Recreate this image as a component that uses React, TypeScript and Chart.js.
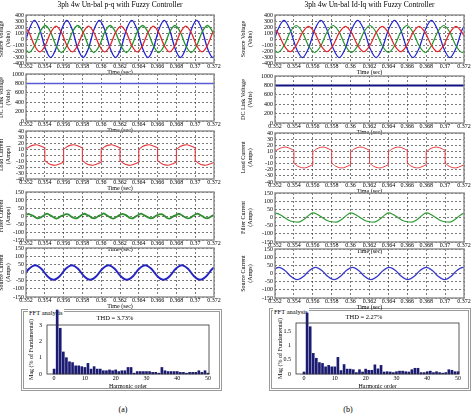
import React, { useEffect, useRef } from 'react';
import { Chart, registerables } from 'chart.js';

Chart.register(...registerables);

// ---------------- data ----------------
const timeTicks = [0.352, 0.354, 0.356, 0.358, 0.36, 0.362, 0.364, 0.366, 0.368, 0.37, 0.372];
const voltTicks = [-400, -300, -200, -100, 0, 100, 200, 300, 400];
const dcTicks = [0, 200, 400, 600, 800, 1000];
const loadTicks = [-40, -30, -20, -10, 0, 10, 20, 30, 40];
const ampTicks = [-150, -100, -50, 0, 50, 100, 150];
const harmTicks = [0, 10, 20, 30, 40, 50];
const fftTicksA = [0, 1, 2, 3];
const fftTicksB = [0, 0.5, 1, 1.5];

// (a) source voltages
const lvT = [0.35175, 0.352325, 0.3529, 0.353475, 0.35405, 0.354625, 0.3552, 0.355775, 0.35635, 0.356925, 0.3575, 0.358075,
  0.35865, 0.359225, 0.3598, 0.360375, 0.36095, 0.361525, 0.3621, 0.362675, 0.36325, 0.363825, 0.3644, 0.364975,
  0.36555, 0.366125, 0.3667, 0.367275, 0.36785, 0.368425, 0.369, 0.369575, 0.37015, 0.370725, 0.3713, 0.371875, 0.37245];
const lvRed = [215, 108, -108, -215, -108, 108, 215, 108, -108, -215, -108, 108, 215, 108, -108, -215, -108, 108,
  215, 108, -108, -215, -108, 108, 215, 108, -108, -215, -108, 108, 215, 108, -108, -215, -108, 108, 215];
const lvGreen = [-113, -225, -113, 113, 225, 113, -113, -225, -113, 113, 225, 113, -113, -225, -113, 113, 225, 113,
  -113, -225, -113, 113, 225, 113, -113, -225, -113, 113, 225, 113, -113, -225, -113, 113, 225, 113, -113];
const lvBlue = [-155, 155, 310, 155, -155, -310, -155, 155, 310, 155, -155, -310, -155, 155, 310, 155, -155, -310,
  -155, 155, 310, 155, -155, -310, -155, 155, 310, 155, -155, -310, -155, 155, 310, 155, -155, -310, -155];

// (b) source voltages
const rvT = [0.35165, 0.3523, 0.35295, 0.3536, 0.35425, 0.3549, 0.35555, 0.3562, 0.35685, 0.3575, 0.35815, 0.3588,
  0.35945, 0.3601, 0.36075, 0.3614, 0.36205, 0.3627, 0.36335, 0.364, 0.36465, 0.3653, 0.36595, 0.3666, 0.36725,
  0.3679, 0.36855, 0.3692, 0.36985, 0.3705, 0.37115, 0.3718, 0.37245];
const rvRed = [210, 105, -105, -210, -105, 105, 210, 105, -105, -210, -105, 105, 210, 105, -105, -210, -105, 105,
  210, 105, -105, -210, -105, 105, 210, 105, -105, -210, -105, 105, 210, 105, -105];
const rvGreen = [-113, -225, -113, 113, 225, 113, -113, -225, -113, 113, 225, 113, -113, -225, -113, 113, 225, 113,
  -113, -225, -113, 113, 225, 113, -113, -225, -113, 113, 225, 113, -113, -225, -113];
const rvBlue = [-155, 155, 310, 155, -155, -310, -155, 155, 310, 155, -155, -310, -155, 155, 310, 155, -155, -310,
  -155, 155, 310, 155, -155, -310, -155, 155, 310, 155, -155, -310, -155, 155, 310];

// DC link voltage
const dcT = [0.352, 0.372];
const dcLeftV = [800, 800];
const dcRightV = [800, 800];

// load current (same in both)
const loadT = [
  0.352, 0.3524, 0.3528, 0.3531, 0.3534, 0.3537, 0.354,
  0.354, 0.3544, 0.3548, 0.3551, 0.3554, 0.3557, 0.356,
  0.356, 0.3564, 0.3568, 0.3571, 0.3574, 0.3577, 0.358,
  0.358, 0.3584, 0.3588, 0.3591, 0.3594, 0.3597, 0.36,
  0.36, 0.3604, 0.3608, 0.3611, 0.3614, 0.3617, 0.362,
  0.362, 0.3624, 0.3628, 0.3631, 0.3634, 0.3637, 0.364,
  0.364, 0.3644, 0.3648, 0.3651, 0.3654, 0.3657, 0.366,
  0.366, 0.3664, 0.3668, 0.3671, 0.3674, 0.3677, 0.368,
  0.368, 0.3684, 0.3688, 0.3691, 0.3694, 0.3697, 0.37,
  0.37, 0.3704, 0.3708, 0.3711, 0.3714, 0.3717, 0.372];
const loadV = [
  10, 14, 16.5, 17, 16, 14, 12,
  -10, -14, -16.5, -17, -16, -14, -12,
  10, 14, 16.5, 17, 16, 14, 12,
  -10, -14, -16.5, -17, -16, -14, -12,
  10, 14, 16.5, 17, 16, 14, 12,
  -10, -14, -16.5, -17, -16, -14, -12,
  10, 14, 16.5, 17, 16, 14, 12,
  -10, -14, -16.5, -17, -16, -14, -12,
  10, 14, 16.5, 17, 16, 14, 12,
  -10, -14, -16.5, -17, -16, -14, -12];

// (a) filter current
const lfT = [
  0.352, 0.35225, 0.3525, 0.35275, 0.353, 0.35325, 0.3535, 0.35375,
  0.354, 0.35425, 0.3545, 0.35475, 0.355, 0.35525, 0.3555, 0.35575,
  0.356, 0.35625, 0.3565, 0.35675, 0.357, 0.35725, 0.3575, 0.35775,
  0.358, 0.35825, 0.3585, 0.35875, 0.359, 0.35925, 0.3595, 0.35975,
  0.36, 0.36025, 0.3605, 0.36075, 0.361, 0.36125, 0.3615, 0.36175,
  0.362, 0.36225, 0.3625, 0.36275, 0.363, 0.36325, 0.3635, 0.36375,
  0.364, 0.36425, 0.3645, 0.36475, 0.365, 0.36525, 0.3655, 0.36575,
  0.366, 0.36625, 0.3665, 0.36675, 0.367, 0.36725, 0.3675, 0.36775,
  0.368, 0.36825, 0.3685, 0.36875, 0.369, 0.36925, 0.3695, 0.36975,
  0.37, 0.37025, 0.3705, 0.37075, 0.371, 0.37125, 0.3715, 0.37175,
  0.372];
const lfV = [
  6, 13, 8, 1, -9, -14, -11, -2,
  8, 15, 7, -1, -11, -16, -10, 0,
  5, 12, 10, -2, -10, -15, -12, -1,
  9, 14, 6, 0, -12, -14, -9, 1,
  6, 16, 8, -2, -10, -16, -11, -1,
  7, 13, 9, 1, -11, -15, -10, 0,
  8, 15, 7, -1, -9, -14, -12, -2,
  6, 12, 10, 0, -12, -16, -9, 1,
  7, 14, 8, -1, -10, -15, -11, 0,
  9, 15, 7, 0, -11, -14, -10, -1,
  6];

// (b) filter current
const rfT = [0.352, 0.3525, 0.353, 0.3535, 0.354, 0.3545, 0.355, 0.3555, 0.356, 0.3565, 0.357, 0.3575, 0.358, 0.3585,
  0.359, 0.3595, 0.36, 0.3605, 0.361, 0.3615, 0.362, 0.3625, 0.363, 0.3635, 0.364, 0.3645, 0.365, 0.3655, 0.366,
  0.3665, 0.367, 0.3675, 0.368, 0.3685, 0.369, 0.3695, 0.37, 0.3705, 0.371, 0.3715, 0.372];
const rfV = [28, 18, 0, -18, -26, -28, -14, 10, 28, 18, 0, -18, -26, -28, -14, 10, 28, 18, 0, -18, -26, -28, -14, 10,
  28, 18, 0, -18, -26, -28, -14, 10, 28, 18, 0, -18, -26, -28, -14, 10, 28];

// (a) source current
const lsT = [0.35168, 0.35233, 0.35298, 0.35363, 0.35428, 0.35493, 0.35558, 0.35623, 0.35688, 0.35753, 0.35818,
  0.35883, 0.35948, 0.36013, 0.36078, 0.36143, 0.36208, 0.36273, 0.36338, 0.36403, 0.36468, 0.36533, 0.36598,
  0.36663, 0.36728, 0.36793, 0.36858, 0.36923, 0.36988, 0.37053, 0.37118, 0.37183, 0.37248];
const lsV = [-23, 23, 45, 23, -23, -45, -23, 23, 45, 23, -23, -45, -23, 23, 45, 23, -23, -45, -23, 23, 45, 23, -23, -45,
  -23, 23, 45, 23, -23, -45, -23, 23, 45];

// (b) source current
const rsT = [0.3511, 0.35175, 0.3524, 0.35305, 0.3537, 0.35435, 0.355, 0.35565, 0.3563, 0.35695, 0.3576, 0.35825,
  0.3589, 0.35955, 0.3602, 0.36085, 0.3615, 0.36215, 0.3628, 0.36345, 0.3641, 0.36475, 0.3654, 0.36605, 0.3667,
  0.36735, 0.368, 0.36865, 0.3693, 0.36995, 0.3706, 0.37125, 0.3719, 0.37255];
const rsV = [-19, 19, 38, 19, -19, -38, -19, 19, 38, 19, -19, -38, -19, 19, 38, 19, -19, -38, -19, 19, 38, 19, -19, -38,
  -19, 19, 38, 19, -19, -38, -19, 19, 38, 19];

// FFT spectra
const harmonics = [0, 1, 2, 3, 4, 5, 6, 7, 8, 9, 10, 11, 12, 13, 14, 15, 16, 17, 18, 19, 20, 21, 22, 23, 24, 25, 26, 27,
  28, 29, 30, 31, 32, 33, 34, 35, 36, 37, 38, 39, 40, 41, 42, 43, 44, 45, 46, 47, 48, 49, 50];
const fftA = [0.3, 3.92, 2.8, 1.35, 1.0, 0.75, 0.7, 0.5, 0.5, 0.45, 0.4, 0.65, 0.3, 0.45, 0.3, 0.3, 0.2, 0.2, 0.25, 0.2,
  0.25, 0.15, 0.2, 0.2, 0.4, 0.4, 0.05, 0.15, 0.15, 0.15, 0.15, 0.15, 0.1, 0.1, 0.05, 0.4, 0.2, 0.15, 0.15, 0.15, 0.15,
  0.1, 0.1, 0.05, 0.1, 0.1, 0.1, 0.2, 0.1, 0.2, 0.05];
const fftB = [0.07, 2.13, 1.65, 0.72, 0.55, 0.4, 0.37, 0.25, 0.3, 0.25, 0.25, 0.58, 0.12, 0.33, 0.17, 0.17, 0.15, 0.05,
  0.15, 0.07, 0.17, 0.13, 0.13, 0.32, 0.18, 0.3, 0.07, 0.08, 0.07, 0.05, 0.08, 0.1, 0.1, 0.08, 0.07, 0.15, 0.2, 0.2,
  0.05, 0.05, 0.08, 0.1, 0.05, 0.08, 0.05, 0.03, 0.05, 0.15, 0.13, 0.08, 0.08];

// ---------------- helpers ----------------
const SERIF = "'Liberation Serif', 'Times New Roman', serif";

type Series = { t: number[]; v: number[]; color: string; width: number };
type LineCfg = {
  L: number; T: number; R: number; B: number;
  yW: number; padTop: number; padR: number; xH: number;
  yMin: number; yMax: number; yTicks: number[]; yTitle: string[];
  series: Series[]; title?: string;
};

const framePlugin = (color: string, width: number) => ({
  id: 'frame',
  afterDraw(chart: any) {
    const { ctx, chartArea: a } = chart;
    ctx.save();
    ctx.strokeStyle = color;
    ctx.lineWidth = width;
    ctx.strokeRect(a.left, a.top, a.right - a.left, a.bottom - a.top);
    ctx.restore();
  },
});

function lineGeom(c: LineCfg) {
  const top = c.title ? 0 : c.T - c.padTop;
  const left = c.L - c.yW;
  const w = c.yW + (c.R - c.L) + c.padR;
  const h = (c.T - top) + (c.B - c.T) + c.xH;
  return { left, top, w, h };
}

function LinePanel({ c }: { c: LineCfg }) {
  const ref = useRef<HTMLCanvasElement>(null);
  const g = lineGeom(c);
  useEffect(() => {
    const chart = new Chart(ref.current as HTMLCanvasElement, {
      type: 'line',
      data: {
        datasets: c.series.map((s) => ({
          data: s.t.map((x, i) => ({ x, y: s.v[i] })),
          borderColor: s.color,
          borderWidth: s.width,
          pointRadius: 0,
          fill: false,
          cubicInterpolationMode: 'monotone',
        })),
      },
      options: {
        responsive: false,
        animation: false,
        devicePixelRatio: 1,
        layout: { autoPadding: false, padding: { left: 0, right: c.padR, top: c.title ? 0 : c.padTop, bottom: 0 } },
        plugins: {
          legend: { display: false },
          tooltip: { enabled: false },
          title: c.title
            ? {
                display: true, text: c.title, color: '#000', fullSize: false,
                font: { family: SERIF, size: 7.5, weight: 'normal', lineHeight: 1.2 },
                padding: { top: 1, bottom: c.T - 10 },
              }
            : { display: false },
        },
        scales: {
          x: {
            type: 'linear', min: 0.352, max: 0.372,
            afterBuildTicks: (s: any) => { s.ticks = timeTicks.map((value) => ({ value })); },
            afterFit: (s: any) => { s.height = c.xH; },
            ticks: {
              autoSkip: false, maxRotation: 0, minRotation: 0, padding: 0, color: '#000',
              font: { family: SERIF, size: 6, lineHeight: 1.1 },
              callback: (v: any) => String(v),
            },
            grid: { color: '#222', lineWidth: 0.6, drawTicks: false },
            border: { display: false, dash: [2, 2] },
            title: { display: true, text: 'Time (sec)', color: '#000', padding: 0, font: { family: SERIF, size: 6, lineHeight: 1 } },
          },
          y: {
            type: 'linear', min: c.yMin, max: c.yMax,
            afterBuildTicks: (s: any) => { s.ticks = c.yTicks.map((value) => ({ value })); },
            afterFit: (s: any) => { s.width = c.yW; },
            ticks: {
              autoSkip: false, padding: 2, color: '#000',
              font: { family: SERIF, size: 6, lineHeight: 1.1 },
              callback: (v: any) => String(v),
            },
            grid: { color: '#222', lineWidth: 0.6, drawTicks: false },
            border: { display: false, dash: [2, 2] },
            title: { display: true, text: c.yTitle, color: '#000', padding: 0, font: { family: SERIF, size: 6, lineHeight: 1.15 } },
          },
        },
      } as any,
      plugins: [framePlugin('#8c8c8c', 1.4)],
    });
    return () => chart.destroy();
  }, []);
  return (
    <canvas ref={ref} width={g.w} height={g.h}
      style={{ position: 'absolute', left: g.left, top: g.top, width: g.w, height: g.h }} />
  );
}

type FftCfg = {
  left: number; top: number; w: number; h: number;
  L: number; T: number; R: number; B: number;
  xMin: number; xMax: number; yMax: number; yTicks: number[];
  values: number[]; thd: string; yTitlePad: number;
};

function FftPanel({ c }: { c: FftCfg }) {
  const ref = useRef<HTMLCanvasElement>(null);
  useEffect(() => {
    const yW = c.L - c.left;
    const padR = c.left + c.w - c.R;
    const xH = 15;
    const padB = c.top + c.h - c.B - xH;
    const titleH = c.T - c.top;
    const chart = new Chart(ref.current as HTMLCanvasElement, {
      type: 'bar',
      data: {
        datasets: [{
          data: harmonics.map((x, i) => ({ x, y: c.values[i] })),
          backgroundColor: '#1b1b72',
          barThickness: 2,
          clip: false,
        }],
      },
      options: {
        responsive: false,
        animation: false,
        devicePixelRatio: 1,
        layout: { autoPadding: false, padding: { left: 0, right: padR, top: 0, bottom: padB } },
        plugins: {
          legend: { display: false },
          tooltip: { enabled: false },
          title: {
            display: true, text: c.thd, color: '#000', fullSize: true,
            font: { family: SERIF, size: 6.5, weight: 'normal', lineHeight: 1.2 },
            padding: { top: 5, bottom: titleH - 5 - 7.8 },
          },
        },
        scales: {
          x: {
            type: 'linear', min: c.xMin, max: c.xMax, offset: false,
            afterBuildTicks: (s: any) => { s.ticks = harmTicks.map((value) => ({ value })); },
            afterFit: (s: any) => { s.height = xH; },
            ticks: { autoSkip: false, maxRotation: 0, padding: 1, color: '#000', font: { family: SERIF, size: 6, lineHeight: 1.1 }, callback: (v: any) => String(v) },
            grid: { display: false, drawTicks: false, offset: false },
            border: { display: false },
            title: { display: true, text: 'Harmonic order', color: '#000', padding: 0, font: { family: SERIF, size: 6, lineHeight: 1 } },
          },
          y: {
            type: 'linear', min: 0, max: c.yMax,
            afterBuildTicks: (s: any) => { s.ticks = c.yTicks.map((value) => ({ value })); },
            afterFit: (s: any) => { s.width = yW; },
            ticks: { autoSkip: false, padding: 5, color: '#000', font: { family: SERIF, size: 6, lineHeight: 1.1 }, callback: (v: any) => String(v) },
            grid: { display: false, drawTicks: false },
            border: { display: false },
            title: { display: true, text: 'Mag (% of Fundamental)', color: '#000', padding: { top: c.yTitlePad, bottom: 0 }, font: { family: SERIF, size: 6, lineHeight: 1.15 } },
          },
        },
      } as any,
      plugins: [framePlugin('#333', 0.8)],
    });
    return () => chart.destroy();
  }, []);
  return (
    <canvas ref={ref} width={c.w} height={c.h}
      style={{ position: 'absolute', left: c.left, top: c.top, width: c.w, height: c.h }} />
  );
}

// ---------------- layout ----------------
const RED = '#e5262b';
const GREEN = '#22962a';
const BLUE = '#2222d4';

const colA = { L: 26, R: 214, yW: 28, padTop: 6, padR: 10, xH: 12 };
const colB = { L: 275, R: 464, yW: 35, padTop: 6, padR: 10, xH: 12 };

const panels: LineCfg[] = [
  { ...colA, T: 15, B: 63, yMin: -400, yMax: 400, yTicks: voltTicks, yTitle: ['Source Voltage', '(Volts)'],
    title: '3ph 4w Un-bal p-q with Fuzzy Controller',
    series: [
      { t: lvT, v: lvRed, color: RED, width: 1.3 },
      { t: lvT, v: lvGreen, color: GREEN, width: 1.3 },
      { t: lvT, v: lvBlue, color: BLUE, width: 1.3 },
    ] },
  { ...colA, T: 74, B: 121, yMin: 0, yMax: 1000, yTicks: dcTicks, yTitle: ['DC Link Voltage', '(Volts)'],
    series: [{ t: dcT, v: dcLeftV, color: '#5a5ad2', width: 1.5 }] },
  { ...colA, T: 131, B: 179, yMin: -40, yMax: 40, yTicks: loadTicks, yTitle: ['Load Current', '(Amps)'],
    series: [{ t: loadT, v: loadV, color: '#e4393c', width: 1.1 }] },
  { ...colA, T: 192, B: 240, yMin: -150, yMax: 150, yTicks: ampTicks, yTitle: ['Filter Current', '(Amps)'],
    series: [{ t: lfT, v: lfV, color: '#2d8f2d', width: 1.8 }] },
  { ...colA, T: 248, B: 297, yMin: -150, yMax: 150, yTicks: ampTicks, yTitle: ['Source Current', '(Amps)'],
    series: [{ t: lsT, v: lsV, color: '#2525c4', width: 2 }] },

  { ...colB, T: 15, B: 63, yMin: -400, yMax: 400, yTicks: voltTicks, yTitle: ['Source Voltage', '(Volts)'],
    title: '3ph 4w Un-bal Id-Iq with Fuzzy Controller',
    series: [
      { t: rvT, v: rvRed, color: RED, width: 1.2 },
      { t: rvT, v: rvGreen, color: GREEN, width: 1.2 },
      { t: rvT, v: rvBlue, color: BLUE, width: 1.2 },
    ] },
  { ...colB, T: 76, B: 123, yMin: 0, yMax: 1000, yTicks: dcTicks, yTitle: ['DC Link Voltage', '(Volts)'],
    series: [{ t: dcT, v: dcRightV, color: '#121283', width: 2 }] },
  { ...colB, T: 133, B: 182, yMin: -40, yMax: 40, yTicks: loadTicks, yTitle: ['Load Current', '(Amps)'],
    series: [{ t: loadT, v: loadV, color: '#e4393c', width: 1 }] },
  { ...colB, T: 193, B: 242, yMin: -150, yMax: 150, yTicks: ampTicks, yTitle: ['Filter Current', '(Amps)'],
    series: [{ t: rfT, v: rfV, color: '#2f9c34', width: 1.2 }] },
  { ...colB, T: 249, B: 298, yMin: -150, yMax: 150, yTicks: ampTicks, yTitle: ['Source Current', '(Amps)'],
    series: [{ t: rsT, v: rsV, color: '#3737cc', width: 1.3 }] },
];

const ffts: FftCfg[] = [
  { left: 21, top: 309, w: 201, h: 107, L: 47, T: 325, R: 209, B: 374, xMin: -2.3, xMax: 50.3, yMax: 3,
    yTicks: fftTicksA, values: fftA, thd: 'THD = 3.73%', yTitlePad: 6.5 },
  { left: 269, top: 308, w: 202, h: 108, L: 296, T: 323, R: 459, B: 374, xMin: -2.6, xMax: 50.3, yMax: 1.78,
    yTicks: fftTicksB, values: fftB, thd: 'THD = 2.27%', yTitlePad: 7.5 },
];

const boxes = [
  { left: 21, top: 309, w: 201, h: 82, labelLeft: 28, labelTop: 308 },
  { left: 269, top: 308, w: 202, h: 83, labelLeft: 273, labelTop: 307 },
];
const captions = [
  { text: '(a)', cx: 123 },
  { text: '(b)', cx: 348 },
];

export default function App() {
  return (
    <div style={{ position: 'fixed', left: 0, top: 0, width: 476, height: 416, background: '#fff', overflow: 'hidden', fontFamily: SERIF }}>
      {boxes.map((b, i) => (
        <React.Fragment key={'box' + i}>
          <div style={{ position: 'absolute', left: b.left, top: b.top, width: b.w, height: b.h, border: '3px double #9a9a9a', boxSizing: 'border-box' }} />
          <div style={{ position: 'absolute', left: b.labelLeft, top: b.labelTop, fontSize: 6.5, lineHeight: '9px', background: '#fff', padding: '0 1px', color: '#000' }}>FFT analysis</div>
        </React.Fragment>
      ))}
      {captions.map((c, i) => (
        <div key={'cap' + i} style={{ position: 'absolute', left: c.cx - 15, top: 404, width: 30, textAlign: 'center', fontSize: 8, lineHeight: '12px', color: '#000' }}>{c.text}</div>
      ))}
      {panels.map((p, i) => <LinePanel key={'p' + i} c={p} />)}
      {ffts.map((f, i) => <FftPanel key={'f' + i} c={f} />)}
    </div>
  );
}
